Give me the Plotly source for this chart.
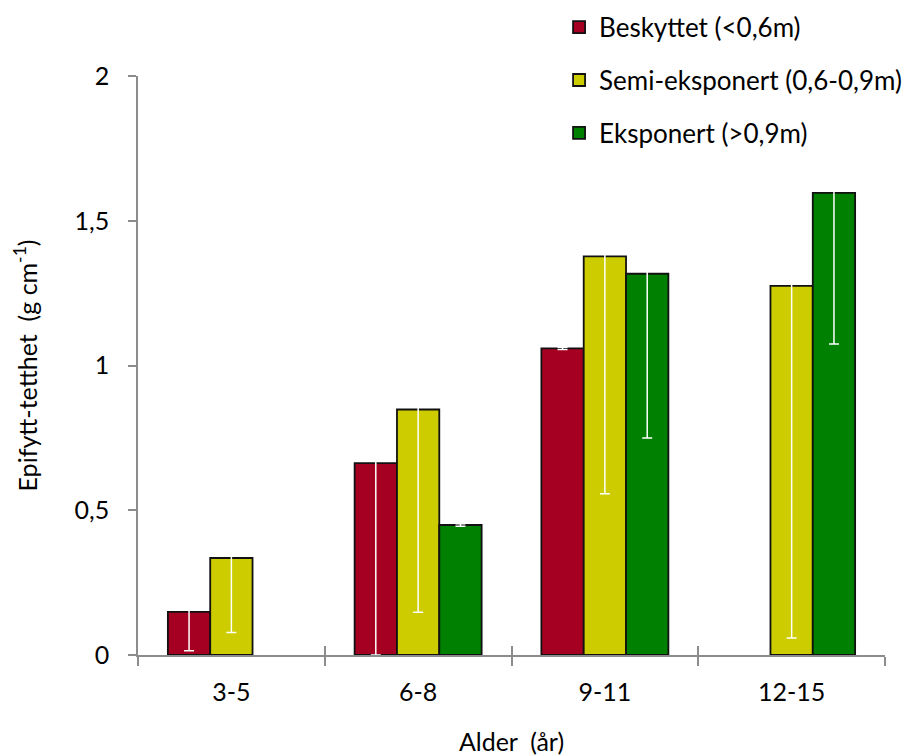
import plotly.graph_objects as go

categories = ["3-5", "6-8", "9-11", "12-15"]
series_names = ["Beskyttet (<0,6m)", "Semi-eksponert (0,6-0,9m)", "Eksponert (>0,9m)"]
beskyttet = [0.149, 0.663, 1.059, None]
semi = [0.335, 0.848, 1.377, 1.275]
eksponert = [None, 0.449, 1.317, 1.596]
err_beskyttet = [0.134, 0.663, 0.004, None]
err_semi = [0.257, 0.700, 0.820, 1.216]
err_eksponert = [None, 0.004, 0.567, 0.522]
colors = ["#A50021", "#CCCC00", "#008000"]

FONT = "Lato"
FS = 25
fig = go.Figure()
for i, (name, vals, errs, col) in enumerate(zip(series_names, [beskyttet, semi, eksponert],
                                                [err_beskyttet, err_semi, err_eksponert], colors)):
    fig.add_trace(go.Bar(
        x=categories, y=vals, name=name, legendgroup=f"g{i}",
        marker=dict(color=col, line=dict(color="#111111", width=1.8)),
        error_y=dict(type="data", array=errs, visible=True, color="white", thickness=1.5, width=5),
    ))

# dummy invisible trace for overlay axis (inside part of crossing ticks)
fig.add_trace(go.Scatter(x=categories, y=[None]*4, xaxis="x2", showlegend=False, hoverinfo="skip"))

axcol = "#8C8C8C"
fig.update_layout(
    width=915, height=756,
    margin=dict(l=138, r=30, t=76, b=101, autoexpand=False),
    paper_bgcolor="white", plot_bgcolor="white",
    barmode="group", bargap=0.32, bargroupgap=0,
    font=dict(family=FONT, size=FS, color="black"),
    separators=", ",
    legend=dict(x=0.611, y=0.995, xanchor="left", yanchor="top", xref="container", yref="container",
                font=dict(size=26, family=FONT), tracegroupgap=16,
                itemwidth=30, bgcolor="rgba(0,0,0,0)"),
    xaxis=dict(type="category", categoryorder="array", categoryarray=categories,
               showline=True, linecolor=axcol, linewidth=1.5,
               ticks="outside", ticklen=9, tickcolor=axcol, tickwidth=1.5,
               tickson="boundaries", showgrid=False, ticklabelstandoff=14,
               tickfont=dict(size=FS, family=FONT),
               title=dict(text="Alder\u00a0\u00a0(år)", font=dict(size=FS, family=FONT), standoff=29)),
    xaxis2=dict(type="category", categoryorder="array", categoryarray=categories,
                overlaying="x", anchor="y", matches="x", side="bottom",
                ticks="inside", ticklen=9, tickcolor=axcol, tickwidth=1.5,
                tickson="boundaries", showticklabels=False, showgrid=False, showline=False),
    yaxis=dict(range=[0, 2], dtick=0.5, tick0=0, showline=True, linecolor=axcol, linewidth=1.5,
               ticks="outside", ticklen=8, tickcolor=axcol, tickwidth=1.5, showgrid=False,
               zeroline=False, tickfont=dict(size=FS, family=FONT), ticklabelstandoff=14,
               title=dict(text="Epifytt-tetthet\u00a0\u00a0(g cm<sup>-1</sup>)", font=dict(size=FS, family=FONT),
                          standoff=30)),
)

fig.write_html("out.html")
